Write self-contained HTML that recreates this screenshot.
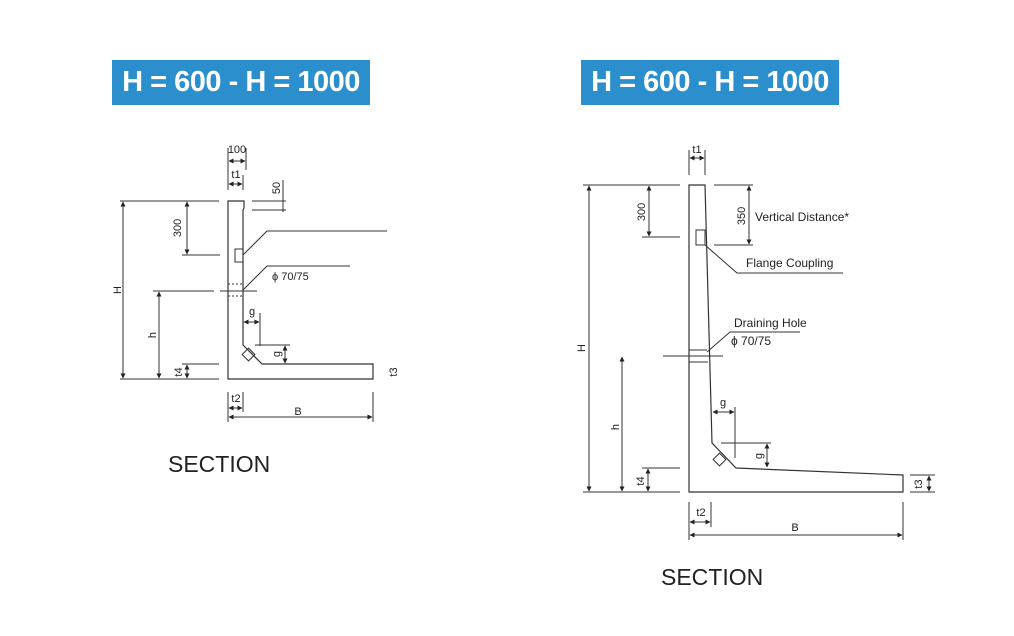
<!DOCTYPE html>
<html><head><style>
body{margin:0;background:#fff;width:1014px;height:636px;overflow:hidden}
.b{position:absolute;top:60px;height:45px;width:258px;background:#2a8fcc;color:#fff;font:bold 29px "Liberation Sans",sans-serif;line-height:45px;text-align:center;letter-spacing:-0.5px}
</style></head><body>
<div class="b" style="left:112px">H = 600 - H = 1000</div>
<div class="b" style="left:581px">H = 600 - H = 1000</div>
<svg width="1014" height="636" style="position:absolute;left:0;top:0" font-family="Liberation Sans, sans-serif">
<defs><marker id="a" viewBox="0 0 10 10" refX="9" refY="5" markerWidth="5" markerHeight="5" markerUnits="userSpaceOnUse" orient="auto-start-reverse"><path d="M0,0L10,5L0,10z" fill="#222"/></marker></defs>
<g stroke="#333" stroke-width="1" fill="none">
<!-- LEFT -->
<path d="M228,201H244V208L243,210V345L262,364H373V379H228Z" stroke-width="1.2"/>
<path d="M120,201H219M120,379H219M182,255H220M182,364H219M153,291H214M220,291H257" />
<path d="M228,284H243M228,296H243" stroke-dasharray="2,2"/>
<path d="M228,148V190M246,148V170M243,175V190M228,392V422M243,392V412M373,392V422M252,201H286M252,210H286M283,180V212M260,313V346M255,345H290"/>
<path d="M243,255L267,231H387M243,290L267,266H350"/>
<rect x="235" y="249" width="8" height="13"/>
<rect x="244" y="350" width="9" height="9" transform="rotate(45 248.5 354.5)"/>
<g marker-start="url(#a)" marker-end="url(#a)">
<path d="M123,202V378"/><path d="M187,202V254"/><path d="M159,292V378"/><path d="M187,365V378"/><path d="M229,161H245"/><path d="M229,184H242"/><path d="M244,322H259"/><path d="M285,346V363"/><path d="M229,408H242"/><path d="M229,417H372"/>
</g>
<!-- RIGHT -->
<path d="M689,185H705L712,443L736,468L903,475V492H689Z" stroke-width="1.2"/>
<path d="M583,185H680M583,492H680M642,237H680M714,185H753M714,245H753M642,468H680M663,356H680M672,356H723M910,475H935M910,492H935"/>
<path d="M689,350H707M689,362H708"/>
<path d="M689,150V175M705,150V175M689,502V540M711,502V527M903,502V540M735,407V458M721,443H771"/>
<path d="M705,245L737,273H843M707,352L730,332H800"/>
<rect x="696" y="230" width="9" height="15"/>
<rect x="715" y="455" width="9" height="9" transform="rotate(45 719.5 459.5)"/>
<g marker-start="url(#a)" marker-end="url(#a)">
<path d="M589,186V491"/><path d="M649,186V236"/><path d="M749,186V244"/><path d="M622,357V491"/><path d="M648,469V491"/><path d="M690,158H704"/><path d="M713,412H734"/><path d="M767,444V467"/><path d="M929,476V491"/><path d="M690,522H710"/><path d="M690,535H902"/>
</g>
</g>
<g fill="#222" font-size="11">
<text x="237" y="153" text-anchor="middle">100</text>
<text x="236" y="178" text-anchor="middle">t1</text>
<text transform="translate(280,188) rotate(-90)" text-anchor="middle">50</text>
<text transform="translate(181,228) rotate(-90)" text-anchor="middle">300</text>
<text transform="translate(121,290) rotate(-90)" text-anchor="middle">H</text>
<text transform="translate(156,335) rotate(-90)" text-anchor="middle">h</text>
<text transform="translate(182,372) rotate(-90)" text-anchor="middle">t4</text>
<text transform="translate(397,372) rotate(-90)" text-anchor="middle">t3</text>
<text transform="translate(280,354) rotate(-90)" text-anchor="middle">g</text>
<text x="252" y="315" text-anchor="middle">g</text>
<text x="272" y="280">ϕ 70/75</text>
<text x="236" y="402" text-anchor="middle">t2</text>
<text x="298" y="415" text-anchor="middle">B</text>
<text x="697" y="153" text-anchor="middle">t1</text>
<text transform="translate(645,212) rotate(-90)" text-anchor="middle">300</text>
<text transform="translate(745,216) rotate(-90)" text-anchor="middle">350</text>
<text x="755" y="221" font-size="12">Vertical Distance*</text>
<text x="746" y="267" font-size="12">Flange Coupling</text>
<text x="734" y="327" font-size="12">Draining Hole</text>
<text x="731" y="345" font-size="12">ϕ 70/75</text>
<text transform="translate(585,348) rotate(-90)" text-anchor="middle">H</text>
<text transform="translate(619,427) rotate(-90)" text-anchor="middle">h</text>
<text transform="translate(644,481) rotate(-90)" text-anchor="middle">t4</text>
<text transform="translate(922,484) rotate(-90)" text-anchor="middle">t3</text>
<text transform="translate(762,456) rotate(-90)" text-anchor="middle">g</text>
<text x="723" y="406" text-anchor="middle">g</text>
<text x="701" y="516" text-anchor="middle">t2</text>
<text x="795" y="531" text-anchor="middle">B</text>
</g>
<g fill="#222" font-size="23">
<text x="168" y="472">SECTION</text>
<text x="661" y="585">SECTION</text>
</g>
</svg>
</body></html>
